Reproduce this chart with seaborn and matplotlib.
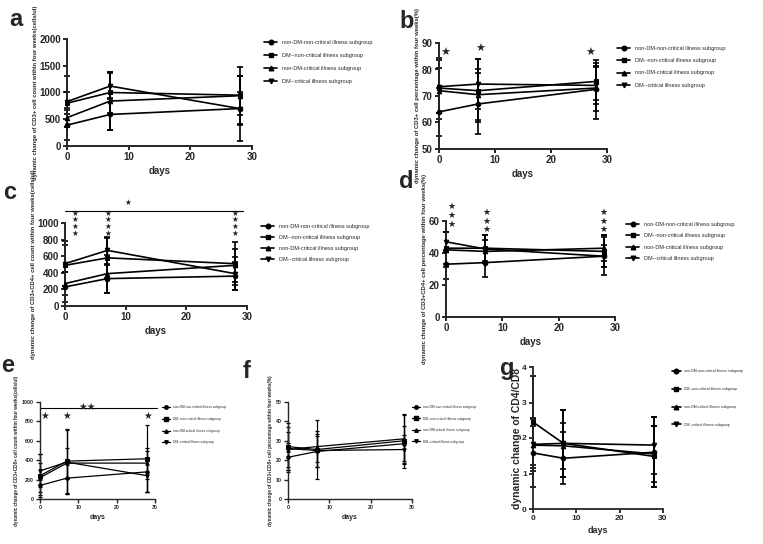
import matplotlib
matplotlib.use('Agg')
import pandas as pd
import matplotlib.pyplot as plt
from matplotlib.lines import Line2D
import seaborn as sns

# ======================================
# data
# ======================================

DAYS = [0, 7, 28]

GROUPS = [
    'non-DM-non-critical illness subgroup',
    'DM--non-critical illness subgroup',
    'non-DM-critical illness subgroup',
    'DM--critical illness subgroup'
]

MARKERS = ['o', 's', '^', 'v']

# a: CD3+ count
a_mean = [[390, 590, 700], [800, 1000, 950], [530, 840, 940], [830, 1120, 700]]
a_sd = [[280, 300, 300], [200, 380, 530], [180, 540, 360], [480, 250, 600]]

# b: CD3+ percentage
b_mean = [[64, 67, 72.5], [73, 72, 75.5], [72, 70.5, 73], [73.5, 74.5, 74]]
b_sd = [[9, 11.5, 11], [11.5, 12, 7], [8.5, 9.5, 8.5], [10, 9.5, 7]]

# c: CD3+CD4+ count
c_mean = [[230, 330, 360], [490, 580, 510], [270, 390, 490], [510, 670, 390]]
c_sd = [[180, 170, 170], [250, 240, 260], [140, 230, 200], [270, 160, 200]]

# d: CD3+CD4+ percentage
d_mean = [[33, 34, 38], [43, 43, 41], [42, 41, 43], [47, 42.5, 38]]
d_sd = [[9, 9, 12], [10, 8, 10], [11, 7, 8], [6, 8.5, 7]]

# e: CD3+CD8+ count
e_mean = [[140, 215, 280], [240, 390, 415], [220, 370, 370], [290, 380, 240]]
e_sd = [[100, 160, 210], [220, 330, 345], [150, 160, 160], [170, 330, 170]]

# f: CD3+CD8+ percentage
f_mean = [[21.5, 24.5, 28.5], [27, 25.5, 30], [25.5, 27, 31], [26, 25, 25.5]]
f_sd = [[7.5, 8, 9], [12, 15, 14], [9, 8, 12.5], [11, 8.5, 7.5]]

# g: CD4/CD8
g_mean = [[1.58, 1.43, 1.6], [2.45, 1.85, 1.48], [1.8, 1.78, 1.55], [1.82, 1.85, 1.8]]
g_sd = [[0.95, 0.73, 0.98], [1.3, 0.95, 0.86], [0.55, 0.65, 0.8], [0.75, 0.95, 0.8]]

# significance stars (day, value, text)
b_stars = [(1.1, 86.2, '★'), (7.3, 87.7, '★'), (27.1, 86.2, '★')]
c_stars = [(1.7, 985, '★\n★\n★\n★'), (7.1, 985, '★\n★\n★\n★'), (28, 985, '★\n★\n★\n★'),
           (10.4, 1240, '★')]
d_stars = [(1.0, 63.5, '★\n★\n★'), (7.1, 60, '★\n★\n★'), (28, 60, '★\n★\n★')]
e_stars = [(1.3, 855, '★'), (7.0, 855, '★'), (28, 855, '★'), (12.3, 950, '★★')]


# ======================================
# layout helpers
# ======================================

W, H = 763, 544


def rect(x0, x1, ytop, ybot):
    return [x0 / W, 1 - ybot / H, (x1 - x0) / W, (ybot - ytop) / H]


BIG = dict(tick=7, ylab=4.2, days=7, leg=4, lw=1.2, ms=3.3, cap=2, spine=1.4, ypad=1)
SMALL = dict(tick=3.8, ylab=3.3, days=5, leg=2.3, lw=0.9, ms=2.5, cap=1.4, spine=1.0, ypad=2)
GSTY = dict(tick=6, ylab=7.5, days=6.5, leg=2.6, lw=1.2, ms=3.3, cap=2, spine=1.3, ypad=0)

PANELS = [
    dict(name='a', mean=a_mean, sd=a_sd, rect=rect(67, 252, 39, 146), ylim=(0, 2000), step=500,
         ylabel='dynamic change of CD3+ cell count within four weeks(cells/ul)',
         letter=(16, 19), leg=(264, 40), lsp=1.45, sty=BIG, stars=[], star_size=7),
    dict(name='b', mean=b_mean, sd=b_sd, rect=rect(439, 607, 43, 149), ylim=(50, 90), step=10,
         ylabel='dynamic change of CD3+ cell percentage within four weeks(%)',
         letter=(407, 21), leg=(617, 46), lsp=1.3, sty=BIG, stars=b_stars, star_size=8),
    dict(name='c', mean=c_mean, sd=c_sd, rect=rect(65, 247, 223, 306), ylim=(0, 1000), step=200,
         ylabel='dynamic change of CD3+CD4+ cell count within four weeks(cells/ul)',
         letter=(10, 192), leg=(261, 224), lsp=1.1, sty=BIG, stars=c_stars, star_size=5.5,
         bar=(0, 29.3, 1145)),
    dict(name='d', mean=d_mean, sd=d_sd, rect=rect(446, 615, 221, 317), ylim=(0, 60), step=20,
         ylabel='dynamic change of CD3+CD4+ cell percentage within four weeks(%)',
         letter=(406, 181), leg=(626, 222), lsp=1.15, sty=BIG, stars=d_stars, star_size=6.5),
    dict(name='e', mean=e_mean, sd=e_sd, rect=rect(40, 155, 402, 499), ylim=(0, 1000), step=200,
         ylabel='dynamic change of CD3+CD8+ cell count within four weeks(cells/ul)',
         letter=(8, 366), leg=(162, 405), lsp=2.45, sty=SMALL, stars=e_stars, star_size=7,
         bar=(0, 30.5, 938)),
    dict(name='f', mean=f_mean, sd=f_sd, rect=rect(288, 412, 402, 499), ylim=(0, 50), step=10,
         ylabel='dynamic change of CD3+CD8+ cell percentage within four weeks(%)',
         letter=(247, 372), leg=(412, 405), lsp=2.35, sty=SMALL, stars=[], star_size=7),
    dict(name='g', mean=g_mean, sd=g_sd, rect=rect(533, 663, 367, 509), ylim=(0, 4), step=1,
         ylabel='dynamic change of CD4/CD8',
         letter=(507, 368), leg=(672, 369), lsp=3.85, sty=GSTY, stars=[], star_size=7),
]


# ======================================
# drawing
# ======================================

sns.set_style('ticks')
plt.rcParams['font.family'] = ['Liberation Sans', 'DejaVu Sans']
plt.rcParams['font.weight'] = 'bold'

fig = plt.figure(figsize=(W / 100, H / 100), dpi=100)

for p in PANELS:

    sty = p['sty']
    ax = fig.add_axes(p['rect'])

    rows = []
    for gi, g in enumerate(GROUPS):
        for d, m in zip(DAYS, p['mean'][gi]):
            rows.append({'day': d, 'value': m, 'group': g})
    df = pd.DataFrame(rows)

    sns.lineplot(
        data=df, x='day', y='value', style='group', style_order=GROUPS,
        markers=MARKERS, dashes=False, color='black', linewidth=sty['lw'],
        markersize=sty['ms'], markeredgecolor='black', errorbar=None,
        legend=False, ax=ax, clip_on=False, zorder=3
    )

    for gi in range(len(GROUPS)):
        ax.errorbar(
            DAYS, p['mean'][gi], yerr=p['sd'][gi], fmt='none', ecolor='black',
            elinewidth=sty['lw'], capsize=sty['cap'], capthick=sty['lw'],
            clip_on=False, zorder=2
        )

    ax.set_xlim(0, 30)
    ax.set_ylim(*p['ylim'])
    ax.set_xticks([0, 10, 20, 30])
    lo, hi = p['ylim']
    ax.set_yticks(list(range(int(lo), int(hi) + 1, p['step'])))
    ax.tick_params(labelsize=sty['tick'], width=sty['spine'], length=3, pad=1.5)
    for lab in ax.get_xticklabels() + ax.get_yticklabels():
        lab.set_fontweight('bold')
    for s in ['left', 'bottom']:
        ax.spines[s].set_linewidth(sty['spine'])
    sns.despine(ax=ax)

    ax.set_xlabel('days', fontsize=sty['days'], fontweight='bold', labelpad=3)
    ax.set_ylabel(p['ylabel'], fontsize=sty['ylab'], fontweight='bold', labelpad=sty['ypad'])

    # significance marks
    if 'bar' in p:
        x0, x1, yb = p['bar']
        ax.plot([x0, x1], [yb, yb], color='black', lw=0.8, clip_on=False)
    for sx, sy, txt in p['stars']:
        ax.text(sx, sy, txt, ha='center', va='center', fontsize=p['star_size'],
                linespacing=0.95, clip_on=False)

    # legend outside on the right
    handles = [
        Line2D([0], [0], color='black', lw=sty['lw'], marker=m, markersize=sty['ms'])
        for m in MARKERS
    ]
    ax.legend(
        handles, GROUPS, loc='upper left',
        bbox_to_anchor=(p['leg'][0] / W, 1 - p['leg'][1] / H),
        bbox_transform=fig.transFigure, frameon=False,
        prop={'size': sty['leg'], 'weight': 'normal'},
        borderpad=0, borderaxespad=0, handlelength=2.4,
        handletextpad=0.9, labelspacing=p['lsp']
    )

    fig.text(p['letter'][0] / W, 1 - p['letter'][1] / H, p['name'],
             fontsize=17, fontweight='bold', ha='center', va='center')

fig.savefig('out.png', dpi=100)
